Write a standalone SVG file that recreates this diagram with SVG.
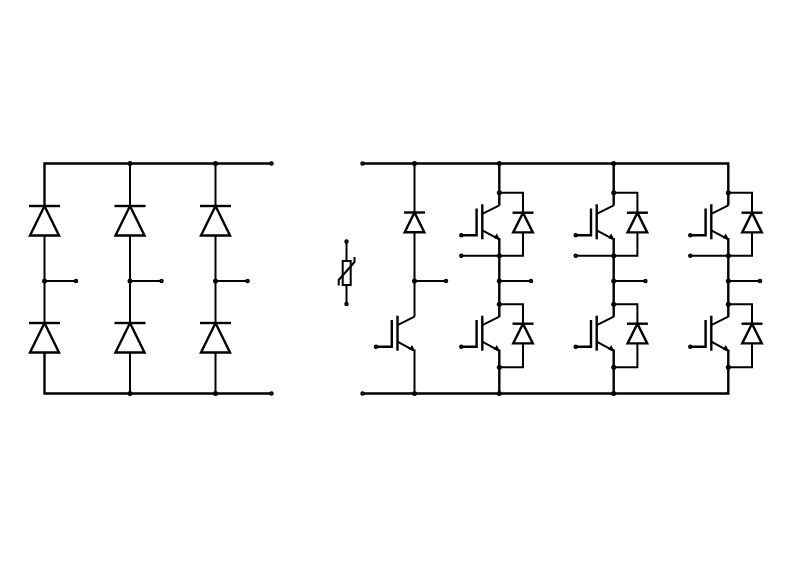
<svg xmlns="http://www.w3.org/2000/svg" width="800" height="565" viewBox="0 0 800 565">
<style>
.w{fill:none;stroke:#000;stroke-width:2;stroke-linecap:butt;stroke-linejoin:miter}
.b{fill:none;stroke:#000;stroke-width:2.4}
.d{fill:#fff;stroke:#000;stroke-width:2.4}
.j{fill:#000}
.t{fill:#333;stroke:#000;stroke-width:1.5}
.a{fill:#000;stroke:none}
</style>
<defs>
<g id="bigD"><path class="d" d="M0 0L-14.500 29.500H14.500Z"/><path class="b" d="M-15.500 0H15.500"/></g>
<g id="smallD"><path class="d" d="M0 0L-9.800 19.700H9.800Z"/><path class="b" d="M-10.500 0H10.500"/></g>
<g id="igbt">
<path class="b" d="M-7.700 -26.700V0H-23"/>
<path class="b" d="M-2 -31V4"/>
<path class="w" d="M-2 -21.500L15 -30M-2 -5L14 3.600"/>
<path class="a" d="M16 5L9.500 2.800L12.500 -1.700Z"/>
</g>
</defs>
<rect width="800" height="565" fill="#fff"/>
<g id="connectors">
<path class="b" d="M44.500 206V163.500H271M44.500 352V393.500H271"/>
<path class="w" d="M44.500 206V352M130 163.500V393.500M215.500 163.500V393.500"/>
<path class="w" d="M44.500 281H76M130 281H161.500M215.500 281H247"/>
<path class="b" d="M362.500 163.500H728.300V192.700"/>
<path class="b" d="M362.500 393.500H728.300V367.300"/>
<path class="w" d="M414.500 163.500V316.700M414.500 349.500V393.500"/>
<path class="w" d="M414.500 281H446"/>
<path class="w" d="M346.500 241.500V261M346.500 285V304"/>
<path class="b" d="M499.300 163.500V205.500M499.300 238V317M499.300 349.500V393.500"/>
<path class="b" d="M613.700 163.500V205.500M613.700 238V317M613.700 349.500V393.500"/>
<path class="b" d="M728.300 192.700V205.500M728.300 238V317M728.300 349.500V367.300"/>
<path class="w" d="M499.300 192.700H523V255.700H461.300M499.300 304.300H523V367.300H499.300M499.300 281H531"/>
<path class="w" d="M613.700 192.700H637.400V255.700H575.700M613.700 304.300H637.400V367.300H613.700M613.700 281H645.400"/>
<path class="w" d="M728.300 192.700H752V255.700H690.300M728.300 304.300H752V367.300H728.300M728.300 281H760"/>
</g>
<g id="junctions">
<g class="j">
<circle cx="130" cy="163.500" r="2.500"/><circle cx="215.500" cy="163.500" r="2.500"/>
<circle cx="44.500" cy="281" r="2.500"/><circle cx="130" cy="281" r="2.500"/><circle cx="215.500" cy="281" r="2.500"/>
<circle cx="130" cy="393.500" r="2.500"/><circle cx="215.500" cy="393.500" r="2.500"/>
<circle cx="414.500" cy="163.500" r="2.500"/><circle cx="499.300" cy="163.500" r="2.500"/><circle cx="613.700" cy="163.500" r="2.500"/>
<circle cx="414.500" cy="281" r="2.500"/><circle cx="414.500" cy="393.500" r="2.500"/>
<circle cx="499.300" cy="393.500" r="2.500"/><circle cx="613.700" cy="393.500" r="2.500"/>
<circle cx="499.300" cy="192.700" r="2.500"/><circle cx="499.300" cy="255.700" r="2.500"/><circle cx="499.300" cy="281" r="2.500"/><circle cx="499.300" cy="304.300" r="2.500"/><circle cx="499.300" cy="367.300" r="2.500"/>
<circle cx="613.700" cy="192.700" r="2.500"/><circle cx="613.700" cy="255.700" r="2.500"/><circle cx="613.700" cy="281" r="2.500"/><circle cx="613.700" cy="304.300" r="2.500"/><circle cx="613.700" cy="367.300" r="2.500"/>
<circle cx="728.300" cy="192.700" r="2.500"/><circle cx="728.300" cy="255.700" r="2.500"/><circle cx="728.300" cy="281" r="2.500"/><circle cx="728.300" cy="304.300" r="2.500"/><circle cx="728.300" cy="367.300" r="2.500"/>
</g>
<g class="t">
<circle cx="271.500" cy="163.500" r="1.500"/><circle cx="271.500" cy="393.500" r="1.500"/>
<circle cx="76" cy="281" r="1.500"/><circle cx="161.500" cy="281" r="1.500"/><circle cx="247.500" cy="281" r="1.500"/>
<circle cx="362.500" cy="163.500" r="1.500"/><circle cx="362.500" cy="393.500" r="1.500"/>
<circle cx="446" cy="281" r="1.500"/><circle cx="346.500" cy="241.500" r="1.500"/><circle cx="346.500" cy="304" r="1.500"/>
<circle cx="376" cy="346.700" r="1.500"/>
<circle cx="461.300" cy="235.300" r="1.500"/><circle cx="461.300" cy="255.700" r="1.500"/><circle cx="461.300" cy="346.700" r="1.500"/><circle cx="531" cy="281" r="1.500"/>
<circle cx="575.700" cy="235.300" r="1.500"/><circle cx="575.700" cy="255.700" r="1.500"/><circle cx="575.700" cy="346.700" r="1.500"/><circle cx="645.400" cy="281" r="1.500"/>
<circle cx="690.300" cy="235.300" r="1.500"/><circle cx="690.300" cy="255.700" r="1.500"/><circle cx="690.300" cy="346.700" r="1.500"/><circle cx="760" cy="281" r="1.500"/>
</g>
</g>
<g id="D1"><use href="#bigD" x="44.500" y="206"/></g>
<g id="D2"><use href="#bigD" x="130" y="206"/></g>
<g id="D3"><use href="#bigD" x="215.500" y="206"/></g>
<g id="D4"><use href="#bigD" x="44.500" y="323"/></g>
<g id="D5"><use href="#bigD" x="130" y="323"/></g>
<g id="D6"><use href="#bigD" x="215.500" y="323"/></g>
<g id="RV"><rect class="w" x="342.700" y="261" width="8" height="24"/><path class="w" d="M338.700 285.500V280L354.500 262V257"/></g>
<g id="D7"><use href="#smallD" x="414.500" y="212.500"/></g>
<g id="Q7"><use href="#igbt" x="399.500" y="346.700"/></g>
<g id="Q1"><use href="#igbt" x="484.300" y="235.300"/></g>
<g id="FD1"><use href="#smallD" x="523" y="212.700"/></g>
<g id="Q2"><use href="#igbt" x="484.300" y="346.700"/></g>
<g id="FD2"><use href="#smallD" x="523" y="323.700"/></g>
<g id="Q3"><use href="#igbt" x="598.700" y="235.300"/></g>
<g id="FD3"><use href="#smallD" x="637.400" y="212.700"/></g>
<g id="Q4"><use href="#igbt" x="598.700" y="346.700"/></g>
<g id="FD4"><use href="#smallD" x="637.400" y="323.700"/></g>
<g id="Q5"><use href="#igbt" x="713.300" y="235.300"/></g>
<g id="FD5"><use href="#smallD" x="752" y="212.700"/></g>
<g id="Q6"><use href="#igbt" x="713.300" y="346.700"/></g>
<g id="FD6"><use href="#smallD" x="752" y="323.700"/></g>
</svg>
